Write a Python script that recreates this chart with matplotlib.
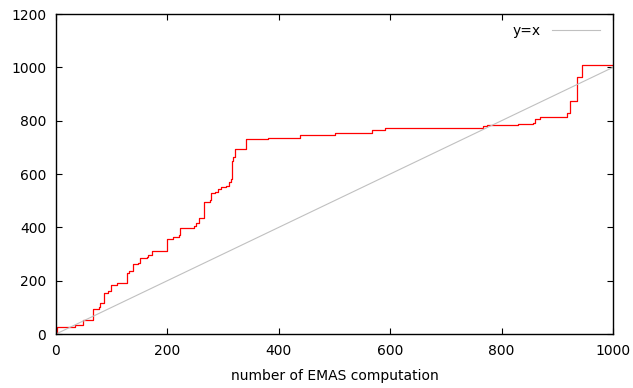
import matplotlib
matplotlib.use("Agg")
import matplotlib.pyplot as plt

# points where the best value changes (step plot, value holds until next x)
emas_x = [0, 2, 34, 49, 67, 77, 79, 86, 94, 99, 109, 128, 131, 138, 147, 150,
          163, 165, 172, 200, 210, 221, 223, 248, 251, 257, 266, 276, 279, 285,
          291, 297, 306, 311, 314, 316, 318, 322, 342, 381, 438, 500, 528, 567,
          591, 767, 773, 830, 856, 860, 869, 917, 923, 935, 944, 1000]
emas_y = [0, 25, 32, 52, 93, 100, 115, 153, 161, 184, 190, 227, 235, 262, 268, 284,
          290, 298, 312, 356, 365, 371, 399, 405, 415, 436, 496, 502, 527, 533,
          544, 550, 556, 571, 580, 647, 662, 692, 733, 736, 746, 752, 755, 764,
          774, 780, 785, 787, 790, 806, 815, 827, 875, 965, 1008, 1010]

diag = [0, 1000]

x_ticks = [0, 200, 400, 600, 800, 1000]
y_ticks = [0, 200, 400, 600, 800, 1000, 1200]

plt.rcParams["font.family"] = "DejaVu Sans"
plt.rcParams["font.size"] = 10

fig = plt.figure(figsize=(6.33, 3.88), dpi=100)
ax = fig.add_axes([56 / 633, 54 / 388, 557 / 633, 320 / 388])

ax.plot(emas_x, emas_y, drawstyle="steps-post", color="#ff0000", linewidth=0.9)
ax.plot(diag, diag, color="#c0c0c0", linewidth=0.8, label="y=x")

ax.set_xlim(0, 1000)
ax.set_ylim(0, 1200)
ax.set_xticks(x_ticks)
ax.set_yticks(y_ticks)
ax.tick_params(direction="in", top=True, right=True, length=4, width=0.8, pad=7)
for s in ax.spines.values():
    s.set_linewidth(1.0)
    s.set_color("black")

ax.set_xlabel("number of EMAS computation", labelpad=8)
ax.legend(loc="upper right", frameon=False, markerfirst=False, handlelength=3.5,
          borderaxespad=0.3, bbox_to_anchor=(0.995, 1.0))

fig.savefig("out.png", dpi=100)
